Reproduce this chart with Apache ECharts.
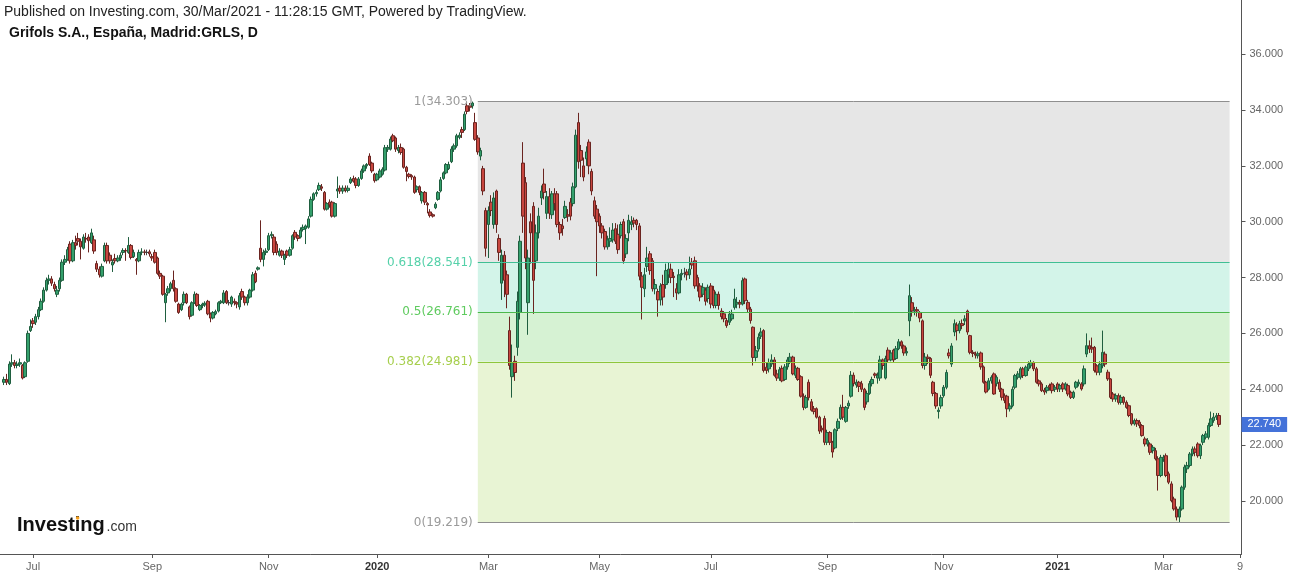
<!DOCTYPE html>
<html>
<head>
<meta charset="utf-8">
<title>Grifols S.A. GRLS, D</title>
<script src="https://cdn.jsdelivr.net/npm/echarts@6.0.0/dist/echarts.min.js"></script>
<style>
html,body{margin:0;padding:0;background:#ffffff;overflow:hidden;}
#chart{width:1291px;height:573px;}
</style>
</head>
<body>
<div id="chart"></div>
<script>
// ---------- texts ----------
const pubLine = 'Published on Investing.com, 30/Mar/2021 - 11:28:15 GMT, Powered by TradingView.';
const symbolLine = 'Grifols S.A., España, Madrid:GRLS, D';
const logoMain = 'Investing';
const logoSuffix = '.com';

// ---------- daily candles, one array per month: [open, close, low, high] ----------
const jun2019 = [[24.25,24.35,24.15,24.45],[24.35,24.25,24.15,24.55],[24.2,24.9,24.15,25.0],[24.9,24.95,24.8,25.25],[24.95,24.85,24.75,25.05],[24.85,24.9,24.75,25.0],[24.9,24.95,24.8,25.1],[24.85,24.4,24.35,24.9],[24.45,24.95,24.4,25.0],[25.0,26.0,24.95,26.1],[26.1,26.25,26.05,26.5]];
const jul2019 = [[26.45,26.35,26.2,26.55],[26.4,26.6,26.3,26.7],[26.6,26.85,26.5,26.95],[26.85,27.15,26.8,27.25],[27.15,27.55,27.1,27.65],[27.55,27.9,27.5,28.0],[27.9,27.95,27.75,28.1],[27.95,27.8,27.7,28.05],[27.75,27.6,27.5,27.85],[27.4,27.55,27.3,27.7],[27.6,27.9,27.5,28.0],[27.9,28.55,27.85,28.65],[28.55,28.65,28.45,28.8],[28.65,29.0,28.6,29.1],[29.2,28.6,28.5,29.3],[28.6,29.25,28.55,29.35],[29.25,29.15,29.0,29.5],[29.4,29.3,29.15,29.6],[29.3,29.1,28.65,29.4],[29.05,29.45,29.0,29.55],[29.4,29.38,29.25,29.6],[29.45,29.32,28.9,29.55],[29.25,29.6,29.2,29.75]];
const aug2019 = [[29.35,28.95,28.85,29.5],[28.5,28.3,28.2,28.6],[28.3,28.1,28.0,28.4],[28.05,28.4,28.0,28.5],[28.6,29.15,28.55,29.25],[29.15,28.6,28.5,29.25],[28.8,28.6,28.5,28.9],[28.45,28.55,28.2,28.65],[28.68,28.6,28.5,28.85],[28.6,28.7,28.55,28.8],[28.7,28.8,28.6,28.9],[28.9,28.97,28.8,29.05],[28.97,28.95,28.6,29.05],[28.9,29.15,28.85,29.45],[29.15,28.72,28.65,29.2],[28.75,28.9,28.7,29.0],[28.65,28.6,28.1,28.7],[28.6,28.9,28.55,29.0],[28.9,28.92,28.8,29.05],[28.92,28.9,28.8,29.0],[28.9,28.9,28.8,29.0],[28.92,28.85,28.75,29.0]];
const sep2019 = [[28.75,28.7,28.6,28.85],[28.9,28.55,28.5,29.0],[28.7,28.15,28.1,28.75],[28.15,28.05,27.95,28.25],[28.05,27.4,27.35,28.1],[27.1,27.4,26.4,27.45],[27.45,27.6,27.35,27.7],[27.6,27.78,27.5,27.85],[27.9,27.6,27.5,28.25],[27.6,27.15,27.1,27.65],[27.05,26.75,26.7,27.1],[26.85,27.05,26.8,27.1],[27.1,27.4,27.0,27.5],[27.4,27.1,27.05,27.45],[26.95,26.6,26.5,27.0],[26.65,27.1,26.6,27.15],[27.1,27.4,27.05,27.5],[27.4,27.0,26.95,27.45],[26.85,27.0,26.8,27.05],[27.0,27.05,26.9,27.1],[27.02,27.08,26.95,27.15]];
const oct2019 = [[27.15,26.7,26.65,27.2],[26.7,26.55,26.4,26.75],[26.55,26.75,26.5,26.8],[26.7,26.78,26.65,26.85],[26.8,27.1,26.75,27.15],[27.1,27.15,27.05,27.2],[27.1,27.45,27.05,27.55],[27.5,27.1,27.05,27.55],[27.1,27.1,27.0,27.2],[27.05,27.3,26.95,27.35],[27.15,27.1,27.0,27.25],[27.1,27.05,26.9,27.15],[26.95,27.35,26.85,27.45],[27.5,27.3,27.2,27.6],[27.3,27.1,27.0,27.35],[27.1,27.3,27.0,27.4],[27.3,27.55,27.25,27.6],[27.55,28.1,27.5,28.2],[28.15,27.85,27.8,28.25],[28.3,28.35,28.25,28.4],[29.05,28.65,28.55,30.05],[28.65,28.9,28.4,29.0],[28.9,28.95,28.8,29.05]];
const nov2019 = [[29.0,29.5,28.95,29.6],[29.5,29.55,29.4,29.65],[29.45,28.9,28.8,29.55],[29.2,28.9,28.8,29.3],[28.8,28.95,28.75,29.05],[28.95,28.8,28.7,29.0],[28.65,28.8,28.45,28.85],[28.95,28.8,28.7,29.0],[28.8,29.0,28.75,29.1],[29.05,29.5,29.0,29.55],[29.62,29.45,29.35,29.7],[29.5,29.4,29.3,29.55],[29.45,29.7,29.4,29.8],[29.72,29.8,29.65,29.9],[29.75,29.85,29.2,29.9],[29.8,30.1,29.75,30.2],[30.2,30.8,30.15,30.9],[30.8,31.0,30.75,31.05],[31.0,31.05,30.9,31.15],[31.15,31.3,31.1,31.4],[31.25,31.2,31.1,31.35]];
const dec2019 = [[31.05,30.45,30.4,31.1],[30.45,30.65,30.4,30.7],[30.7,30.6,30.5,30.8],[30.7,30.2,30.15,30.75],[30.2,30.65,30.15,30.7],[31.1,31.17,30.85,31.62],[31.2,31.1,31.0,31.3],[31.1,31.2,31.0,31.3],[31.2,31.12,31.05,31.3],[31.12,31.2,31.05,31.3],[31.4,31.53,31.35,31.6],[31.55,31.45,31.4,31.65],[31.53,31.3,31.2,31.6],[31.3,31.53,31.25,31.6],[31.55,31.82,31.5,31.9],[31.82,32.0,31.75,32.05],[32.0,32.05,31.9,32.1],[32.35,32.05,32.0,32.45],[32.1,31.82,31.75,32.15],[31.7,31.47,31.4,31.75]];
const jan2020 = [[31.5,31.7,31.45,31.75],[31.6,31.82,31.55,31.9],[31.7,31.88,31.65,31.95],[31.85,32.65,31.8,32.75],[32.6,32.66,32.5,32.75],[32.6,32.96,32.55,33.05],[33.08,32.9,32.85,33.15],[33.0,32.6,32.5,33.05],[32.55,32.66,32.45,32.75],[32.66,32.48,32.4,32.8],[32.6,31.95,31.9,32.65],[31.95,31.8,31.45,32.0],[31.7,31.62,31.55,31.75],[31.65,31.6,31.5,31.7],[31.6,31.05,31.0,31.65],[31.15,31.25,31.05,31.3],[31.25,31.05,30.95,31.3],[30.75,31.05,30.65,31.1],[31.05,30.7,30.6,31.1],[30.65,30.6,30.3,30.7],[30.35,30.22,30.15,30.45],[30.25,30.2,30.15,30.3]];
const feb2020 = [[30.5,30.63,30.45,30.7],[30.8,31.05,30.75,31.1],[31.1,31.5,31.05,31.6],[31.55,31.75,31.5,31.8],[31.75,32.05,31.7,32.1],[31.9,32.05,31.85,32.15],[32.15,32.6,32.1,32.7],[32.6,32.72,32.5,32.8],[32.72,33.08,32.65,33.15],[33.02,33.1,32.95,33.2],[33.3,33.2,33.0,33.4],[33.3,33.85,33.25,33.95],[34.15,33.95,33.85,34.25],[34.15,34.1,33.95,34.25],[34.15,34.25,34.05,34.303],[33.55,32.95,32.9,33.9],[33.0,32.5,32.4,33.1],[32.35,32.55,32.2,32.65],[31.9,31.1,30.95,32.0],[30.4,29.05,28.75,30.5]];
const mar2020 = [[29.9,30.4,28.7,30.55],[30.7,30.4,30.2,30.95],[29.9,30.85,29.75,31.05],[31.1,29.9,29.6,31.15],[29.4,28.9,28.6,29.55],[27.8,28.8,27.2,29.0],[28.8,27.9,27.3,28.95],[28.1,27.4,26.9,28.25],[26.1,24.85,24.7,26.6],[24.45,24.95,23.7,25.6],[25.0,24.6,24.3,25.2],[25.5,27.15,25.2,27.5],[26.75,29.3,26.5,29.5],[32.1,30.2,29.6,32.85],[31.4,28.7,28.3,31.6],[27.1,28.7,25.95,29.0],[30.0,29.6,28.5,30.3],[30.55,27.9,26.7,30.7],[28.6,29.6,28.3,29.9],[29.6,30.2,29.4,30.5],[30.85,31.1,30.6,31.3],[31.35,31.05,30.8,31.9]];
const apr2020 = [[30.3,30.9,30.1,31.1],[30.9,30.3,30.1,31.2],[30.25,31.0,30.1,31.1],[31.0,30.65,30.4,31.2],[31.0,29.9,29.8,31.1],[29.9,29.6,29.35,30.0],[29.85,29.75,29.5,30.1],[30.15,30.55,30.1,30.75],[30.25,30.2,30.0,30.45],[30.7,30.2,30.05,30.85],[30.65,31.25,30.55,31.4],[31.25,33.1,31.2,33.3],[33.55,32.15,31.9,33.9],[32.55,32.2,31.6,32.75],[32.0,31.6,31.45,32.3],[32.25,32.5,32.0,32.7],[32.85,32.0,31.7,32.95],[31.8,31.1,30.95,31.9],[30.75,30.2,30.1,30.9],[30.45,30.0,28.05,30.6]];
const may2020 = [[30.2,29.85,29.6,30.3],[29.85,29.6,29.4,29.95],[29.65,29.1,29.0,29.75],[29.1,29.35,29.0,29.5],[29.3,29.4,29.1,29.8],[29.35,29.7,29.25,29.95],[29.75,29.3,29.2,29.95],[29.55,29.0,28.85,29.9],[29.5,29.9,29.4,30.0],[30.0,28.6,28.5,30.1],[28.85,29.4,28.7,29.55],[29.6,30.05,29.3,30.25],[29.9,30.0,29.7,30.2],[30.05,29.95,29.8,30.15],[30.05,29.9,29.7,30.1],[29.85,28.05,27.9,29.95],[28.05,27.65,26.5,28.2],[27.6,28.1,27.3,28.35],[28.4,28.7,28.2,29.1],[28.85,28.25,28.1,28.95]];
const jun2020 = [[28.6,27.6,27.5,28.7],[27.6,27.75,27.4,27.95],[27.5,27.2,26.6,27.6],[27.2,27.7,27.0,27.8],[27.75,27.3,27.0,28.1],[27.75,28.25,27.6,28.5],[28.1,28.3,27.8,28.55],[28.3,28.0,27.8,28.5],[28.05,28.0,27.3,28.2],[27.6,27.45,27.2,27.8],[27.45,28.1,27.4,28.3],[28.1,28.15,27.9,28.3],[28.15,28.15,28.0,28.35],[28.2,28.1,27.9,28.3],[28.1,28.3,27.95,28.75],[28.55,28.45,28.3,28.7],[28.6,27.7,27.6,28.75],[28.0,27.7,27.5,28.1],[27.7,27.3,27.15,27.8],[27.4,27.65,27.3,27.8],[27.55,27.15,27.0,27.65],[27.25,27.65,27.1,27.75]];
const jul2020 = [[27.7,27.05,26.9,27.8],[27.55,27.0,26.9,27.7],[27.0,27.4,26.9,27.5],[27.4,27.0,26.85,27.5],[26.8,26.6,26.5,26.9],[26.7,26.52,26.4,26.8],[26.46,26.28,26.2,26.55],[26.4,26.69,26.3,26.8],[26.52,26.69,26.45,26.85],[26.93,27.23,26.85,27.6],[27.05,27.11,26.9,27.3],[27.11,27.05,26.9,27.2],[27.05,27.89,27.0,28.0],[27.95,27.17,27.05,28.0],[27.11,26.87,26.75,27.2],[26.87,26.46,26.35,26.95],[26.22,25.14,24.85,26.25],[25.14,25.38,25.0,25.55],[25.44,25.86,25.35,26.0],[25.9,26.05,25.8,26.2],[26.1,24.67,24.6,26.15],[24.79,24.67,24.55,24.95],[24.73,24.96,24.6,25.1]];
const aug2020 = [[24.9,25.05,24.8,25.25],[25.05,24.5,24.45,25.15],[24.55,24.4,24.3,24.7],[24.4,24.7,24.3,24.8],[24.75,24.3,24.25,24.85],[24.35,24.8,24.3,24.9],[24.8,25.05,24.7,25.15],[25.0,25.15,24.9,25.3],[25.15,24.55,24.5,25.2],[24.5,24.75,24.4,24.85],[24.75,24.35,24.3,24.8],[24.45,23.75,23.7,24.5],[23.75,23.35,23.25,23.85],[23.35,23.7,23.3,23.8],[24.25,23.7,23.6,24.35],[23.55,23.25,23.2,23.65],[23.3,23.2,23.1,23.4],[23.3,23.0,22.95,23.35],[23.0,22.5,22.4,23.05],[22.6,22.55,22.45,22.7],[22.95,22.1,22.0,23.05]];
const sep2020 = [[22.1,22.45,22.0,22.55],[22.45,22.1,22.0,22.5],[22.1,21.75,21.55,22.15],[21.9,22.55,21.85,22.6],[22.6,22.85,22.5,22.95],[22.95,23.35,22.9,23.45],[23.35,23.0,22.9,23.8],[22.85,23.35,22.8,23.4],[23.4,23.5,23.3,23.6],[23.75,24.5,23.7,24.65],[24.5,24.2,24.1,24.6],[24.15,24.25,24.05,24.35],[24.25,24.1,23.9,24.3],[24.2,24.0,23.9,24.3],[24.0,23.35,23.25,24.05],[23.55,23.85,23.45,23.95],[23.85,24.2,23.8,24.3],[24.2,24.35,24.1,24.45],[24.55,24.5,24.4,24.6],[24.4,24.5,24.2,24.6],[24.4,25.05,24.3,25.2],[25.05,24.85,24.7,25.1]];
const oct2020 = [[24.4,25.1,24.35,25.2],[25.4,25.05,24.95,25.5],[25.05,25.3,25.0,25.4],[25.4,25.05,24.95,25.45],[25.1,25.45,25.05,25.55],[25.45,25.7,25.4,25.8],[25.7,25.55,25.45,25.75],[25.55,25.3,25.2,25.6],[25.3,25.35,25.2,25.5],[26.45,27.35,25.9,27.75],[27.1,26.8,26.6,27.3],[26.8,26.85,26.65,26.95],[26.85,26.8,26.6,26.95],[26.75,26.55,26.4,26.8],[26.45,24.85,24.75,26.5],[24.85,25.15,24.7,25.3],[25.15,25.1,24.9,25.25],[25.1,24.5,24.4,25.15],[24.25,23.85,23.75,24.3],[23.85,23.4,23.3,23.9],[23.2,23.25,22.95,23.35],[23.4,23.7,23.3,23.8]];
const nov2020 = [[23.77,24.07,23.7,24.15],[24.07,24.6,24.0,24.7],[25.3,25.2,25.1,25.45],[24.9,25.55,24.8,25.65],[26.05,26.35,25.9,26.5],[26.3,26.1,25.75,26.4],[26.1,26.35,26.0,26.45],[26.35,26.28,26.15,26.5],[26.45,26.52,26.3,26.65],[26.8,26.05,25.95,26.85],[25.92,25.32,25.25,25.95],[25.32,25.28,25.15,25.4],[25.26,25.22,25.1,25.35],[25.2,25.27,25.1,25.35],[25.3,24.8,24.7,25.35],[24.8,24.25,24.2,24.85],[24.25,23.9,23.85,24.3],[24.0,24.3,23.95,24.4],[24.3,24.43,24.2,24.5],[24.55,23.83,23.8,24.6],[24.2,24.43,24.1,24.5]];
const dec2020 = [[24.25,24.0,23.9,24.35],[24.0,23.71,23.6,24.05],[23.77,23.6,23.5,23.85],[23.75,23.3,23.0,23.8],[23.3,23.4,23.2,23.5],[23.41,24.0,23.35,24.1],[24.07,24.49,24.0,24.55],[24.43,24.55,24.35,24.65],[24.43,24.73,24.35,24.8],[24.73,24.49,24.4,24.8],[24.49,24.79,24.45,24.85],[24.73,24.9,24.65,25.0],[24.84,24.96,24.75,25.05],[24.96,24.73,24.65,25.0],[24.73,24.25,24.2,24.8],[24.3,24.19,24.1,24.35],[24.19,23.95,23.9,24.25],[23.97,23.9,23.8,24.05],[23.95,24.07,23.85,24.15],[24.13,24.07,23.95,24.2],[24.19,23.95,23.85,24.25],[24.0,24.07,23.9,24.15]];
const jan2021 = [[24.19,24.01,23.9,24.25],[24.01,24.13,23.9,24.2],[24.19,24.01,23.9,24.25],[24.01,24.19,23.95,24.25],[24.13,23.83,23.75,24.2],[23.89,23.71,23.65,23.95],[23.71,23.89,23.65,23.95],[24.07,24.25,24.0,24.3],[24.19,24.25,24.1,24.35],[24.19,24.01,23.95,24.25],[24.19,24.73,24.1,24.85],[25.26,25.56,25.15,26.0],[25.56,25.44,25.3,25.75],[25.5,25.44,25.3,25.85],[25.5,24.67,24.6,25.55],[24.84,24.61,24.5,24.9],[24.61,24.9,24.5,25.0],[24.84,25.32,24.75,26.1],[25.26,24.9,24.8,25.35],[24.61,24.37,24.3,24.7]];
const feb2021 = [[24.37,23.71,23.65,24.4],[23.83,23.65,23.55,23.9],[23.65,23.77,23.55,23.85],[23.77,23.53,23.45,23.85],[23.53,23.71,23.45,23.8],[23.71,23.53,23.45,23.75],[23.53,23.35,23.3,23.6],[23.41,23.06,23.0,23.45],[23.12,22.76,22.7,23.15],[22.76,22.88,22.7,22.95],[22.88,22.76,22.65,22.95],[22.82,22.7,22.6,22.9],[22.7,22.34,22.3,22.75],[22.22,22.04,21.95,22.3],[22.04,22.16,21.95,22.25],[22.04,21.74,21.65,22.1],[21.8,21.92,21.7,22.0],[21.8,21.51,21.45,21.9],[21.51,20.91,20.37,21.6],[20.91,21.56,20.85,21.65]];
const mar2021 = [[21.5,21.56,21.4,21.65],[21.62,20.91,20.85,21.7],[20.97,20.67,20.6,21.05],[20.61,20.01,19.95,20.7],[20.07,19.71,19.65,20.15],[19.71,19.42,19.3,19.8],[19.42,19.71,19.22,19.8],[19.71,20.49,19.65,20.55],[20.49,21.21,20.4,21.3],[21.15,21.27,21.0,21.4],[21.27,21.68,21.2,21.75],[21.68,21.86,21.6,21.95],[21.86,21.74,21.6,21.95],[22.04,21.62,21.55,22.1],[21.62,21.98,21.5,22.05],[22.1,22.34,22.0,22.4],[22.28,22.4,22.2,22.5],[22.28,22.7,22.2,22.8],[22.7,22.94,22.65,23.2],[22.88,23.0,22.8,23.15],[23.0,23.05,22.9,23.15],[23.06,22.74,22.65,23.15]];

const monthSeries = [jun2019, jul2019, aug2019, sep2019, oct2019, nov2019, dec2019, jan2020, feb2020, mar2020, apr2020, may2020, jun2020, jul2020, aug2020, sep2020, oct2020, nov2020, dec2020, jan2021, feb2021, mar2021];
const monthNames = ['Jun 2019','Jul 2019','Aug 2019','Sep 2019','Oct 2019','Nov 2019','Dec 2019','Jan 2020','Feb 2020','Mar 2020','Apr 2020','May 2020','Jun 2020','Jul 2020','Aug 2020','Sep 2020','Oct 2020','Nov 2020','Dec 2020','Jan 2021','Feb 2021','Mar 2021'];
// tick labels of the time axis (shown at the first session of the month)
const monthTickLabels = ['', 'Jul', '', 'Sep', '', 'Nov', '', '2020', '', 'Mar', '', 'May', '', 'Jul', '', 'Sep', '', 'Nov', '', '2021', '', 'Mar'];
const yearTickLabels = ['2020', '2021'];
const edgeTickLabel = '9';

// price axis tick labels
const priceTicks = [20, 22, 24, 26, 28, 30, 32, 34, 36];

// Fibonacci retracement levels
const fibRatios = ['1', '0.618', '0.5', '0.382', '0'];
const fibPrices = [34.303, 28.541, 26.761, 24.981, 19.219];

// ---------- build category axis ----------
const LEAD = 1, TRAIL = 8;
const categories = [];
const candles = [];
const labelAt = {};
for (let i = 0; i < LEAD; i++) { categories.push('lead' + i); candles.push(['-', '-', '-', '-']); }
monthSeries.forEach((rows, m) => {
  rows.forEach((r, k) => {
    if (k === 0 && monthTickLabels[m]) labelAt[categories.length] = monthTickLabels[m];
    categories.push(monthNames[m] + ' #' + (k + 1));
    candles.push(r);
  });
});
for (let i = 0; i < TRAIL; i++) categories.push('pad' + i);
labelAt[categories.length - 1] = edgeTickLabel;

const firstData = LEAD;
const lastIdx = candles.length - 1;
const lastClose = candles[lastIdx][1];
const fibStart = firstData + jun2019.length + jul2019.length + aug2019.length + sep2019.length + oct2019.length + nov2019.length + dec2019.length + jan2020.length + 16; // first session after the swing high
const fibEnd = lastIdx + 4;

const fibLineColors = ['#8f8f8f', '#3fbf94', '#4cb84c', '#8ec63c', '#8f8f8f'];
const fibTextColors = ['#9a9a9a', '#55d1a9', '#5fcb5f', '#a7cf4e', '#9a9a9a'];
const fibFillColors = ['#e6e6e6', '#d3f4e9', '#d6f2d3', '#e8f4d4'];

const fibLines = fibPrices.map((p, i) => [
  { coord: [fibStart, p], lineStyle: { color: fibLineColors[i], width: 1, type: 'solid' },
    label: { formatter: fibRatios[i] + '(' + p.toFixed(3) + ')', color: fibTextColors[i] } },
  { coord: [fibEnd, p] }
]);
const fibAreas = [];
for (let i = 0; i < fibPrices.length - 1; i++) {
  fibAreas.push([
    { coord: [fibStart, fibPrices[i]], itemStyle: { color: fibFillColors[i], opacity: 1 } },
    { coord: [fibEnd, fibPrices[i + 1]] }
  ]);
}

const showTick = (idx) => labelAt[idx] !== undefined;

const GRID_H = 554;
const PX_PER_UNIT = 27.92;
const Y36 = 54.2;
const yMax = 36 + Y36 / PX_PER_UNIT;
const yMin = 36 - (GRID_H - Y36) / PX_PER_UNIT;

const chart = echarts.init(document.getElementById('chart'), null, { renderer: 'canvas' });
const option = {
  animation: false,
  backgroundColor: '#ffffff',
  textStyle: { fontFamily: '"Liberation Sans", Arial, sans-serif' },
  grid: { left: 0, top: 0, width: 1241.5, height: GRID_H, containLabel: false, outerBoundsMode: 'none' },
  xAxis: {
    type: 'category', data: categories, boundaryGap: true,
    axisLine: { show: true, lineStyle: { color: '#555555', width: 1 } },
    axisTick: { show: true, alignWithLabel: true, interval: showTick, length: 4, lineStyle: { color: '#555555' } },
    axisLabel: {
      show: true, interval: showTick, margin: 7, fontSize: 11, color: '#666666',
      formatter: (v, i) => {
        const t = labelAt[i];
        if (t === undefined) return '';
        return yearTickLabels.indexOf(t) >= 0 ? '{yr|' + t + '}' : t;
      },
      rich: { yr: { fontWeight: 'bold', color: '#333333', fontSize: 11 } }
    },
    splitLine: { show: false }
  },
  yAxis: {
    type: 'value', position: 'right', min: yMin, max: yMax,
    axisLine: { show: true, lineStyle: { color: '#555555', width: 1 } },
    axisTick: { show: true, customValues: priceTicks, length: 4, lineStyle: { color: '#555555' } },
    axisLabel: { customValues: priceTicks, formatter: v => v.toFixed(3), color: '#666666', fontSize: 11, margin: 8 },
    splitLine: { show: false }
  },
  series: [
    {
      type: 'line', data: [], silent: true, z: 1, clip: false,
      markArea: { silent: true, label: { show: false }, data: fibAreas },
      markLine: {
        silent: true, symbol: ['none', 'none'], animation: false,
        label: { show: true, position: 'start', distance: 5, fontSize: 12, fontFamily: '"DejaVu Sans", Verdana, sans-serif' },
        data: fibLines
      }
    },
    {
      type: 'candlestick', data: candles, z: 3, clip: false, barWidth: 3,
      itemStyle: {
        color: '#34a06c', color0: '#c8463f',
        borderColor: '#1f5e3f', borderColor0: '#6a2420', borderColorDoji: '#444444',
        borderWidth: 1
      }
    },
    {
      type: 'line', data: [], silent: true, z: 10, clip: false,
      markLine: {
        silent: true, symbol: ['none', 'none'], animation: false, z: 10,
        lineStyle: { color: 'rgba(0,0,0,0)', width: 0 },
        data: [{ yAxis: lastClose }],
        label: {
          show: true, position: 'end', distance: 0, formatter: lastClose.toFixed(3),
          backgroundColor: '#4472d9', color: '#ffffff', padding: [2, 6, 2, 6], fontSize: 11,
          fontFamily: '"Liberation Sans", Arial, sans-serif', opacity: 1
        }
      }
    }
  ],
  graphic: [
    { type: 'text', left: 4, top: 5, silent: true, style: { text: pubLine, font: '14px "Liberation Sans", Arial, sans-serif', fill: '#222222' } },
    { type: 'text', left: 9, top: 26, silent: true, style: { text: symbolLine, font: 'bold 14px "Liberation Sans", Arial, sans-serif', fill: '#111111' } },
    { type: 'text', left: 17, top: 515, silent: true, style: { text: logoMain, font: 'bold 20px "Liberation Sans", Arial, sans-serif', fill: '#111111' } },
    { type: 'text', left: 106.5, top: 520, silent: true, style: { text: logoSuffix, font: '14px "Liberation Sans", Arial, sans-serif', fill: '#333333' } },
    { type: 'circle', silent: true, z: 100, shape: { cx: 77.6, cy: 518, r: 1.8 }, style: { fill: '#f5a01e' } }
  ]
};
chart.setOption(option);
</script>
</body>
</html>
